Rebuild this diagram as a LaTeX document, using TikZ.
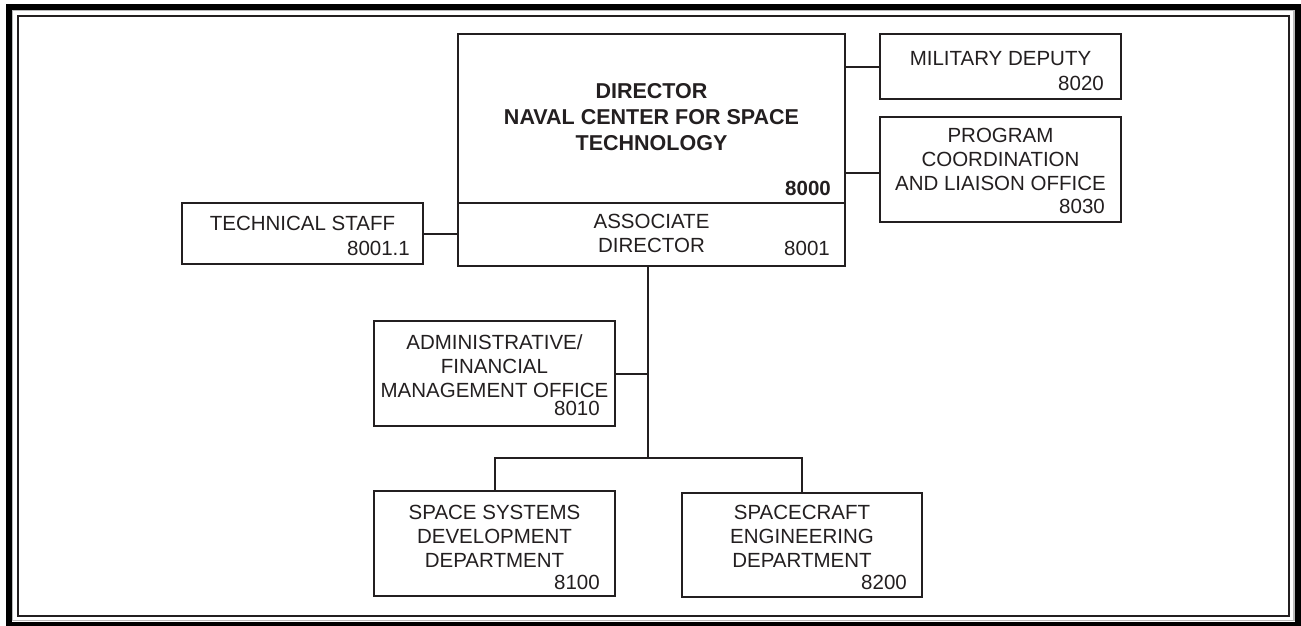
\documentclass[tikz,border=0pt]{standalone}
\usepackage{fontspec}
\setmainfont{Liberation Sans}
\definecolor{ink}{HTML}{231F20}
\begin{document}
\begin{tikzpicture}[x=1pt,y=-1pt,
  box/.style={draw=ink, line width=2pt, fill=white, inner sep=0pt, rectangle},
  conn/.style={draw=ink, line width=2pt},
  txt/.style={text=ink, inner sep=0pt, align=center, anchor=base, font=\fontsize{20.5}{24}\selectfont},
  boldtxt/.style={txt, font=\fontsize{21.5}{26}\selectfont\bfseries},
  num/.style={text=ink, inner sep=0pt, anchor=base east, font=\fontsize{20.5}{24}\selectfont},
  boldnum/.style={num, font=\fontsize{20.5}{24}\selectfont\bfseries}
]
\useasboundingbox (0,0) rectangle (1301,625);
% frames
\draw[black, line width=6pt] (9,7) rectangle (1298,625);
\draw[gray!55, line width=1.2pt] (12.7,10.8) rectangle (1294,620.8);
\draw[ink, line width=1.5pt] (18,16) rectangle (1289,616);

% boxes
\node[box, minimum width=387pt, minimum height=169pt] (dir) at (651.5,118.5) {};
\node[box, minimum width=387pt, minimum height=63pt] (assoc) at (651.5,234.5) {};
\node[box, minimum width=241pt, minimum height=61pt] (tech) at (302.5,233.5) {};
\node[box, minimum width=241pt, minimum height=65pt] (mil) at (1000.5,66.5) {};
\node[box, minimum width=241pt, minimum height=105pt] (prog) at (1000.5,169.5) {};
\node[box, minimum width=241pt, minimum height=105pt] (admin) at (494.5,373.5) {};
\node[box, minimum width=241pt, minimum height=105pt] (ssd) at (494.5,543.5) {};
\node[box, minimum width=240pt, minimum height=104pt] (sed) at (802,545) {};

% connectors
\coordinate (bus) at (648,458);
\draw[conn] (dir.east |- mil.west) -- (mil.west);
\draw[conn] ([yshift=-3.5pt]prog.west -| dir.east) -- ([yshift=-3.5pt]prog.west);
\draw[conn] (tech.east) -- (tech.east -| assoc.west);
\draw[conn] (assoc.south -| bus) -- (bus);
\draw[conn] (admin.east) -- (admin.east -| bus);
\draw[conn] (ssd.north) |- (bus) -| (sed.north);

% texts (anchor=base is the baseline of the last line)
\node[boldtxt] (tdir) at (651.5,150) {DIRECTOR\\NAVAL CENTER FOR SPACE\\TECHNOLOGY};
\node[boldnum] (ndir) at (831,195) {8000};
\node[txt] (tassoc) at (651.5,252) {ASSOCIATE\\DIRECTOR};
\node[num] (nassoc) at (830,255) {8001};
\node[txt] (ttech) at (302.5,230) {TECHNICAL STAFF};
\node[num] (ntech) at (410,255) {8001.1};
\node[txt] (tmil) at (1000.5,65) {MILITARY DEPUTY};
\node[num] (nmil) at (1104,90) {8020};
\node[txt] (tprog) at (1000.5,190) {PROGRAM\\COORDINATION\\AND LIAISON OFFICE};
\node[num] (nprog) at (1105,213) {8030};
\node[txt] (tadmin) at (494.5,397) {ADMINISTRATIVE/\\FINANCIAL\\MANAGEMENT OFFICE};
\node[num] (nadmin) at (600,415) {8010};
\node[txt] (tssd) at (494.5,567) {SPACE SYSTEMS\\DEVELOPMENT\\DEPARTMENT};
\node[num] (nssd) at (600,589) {8100};
\node[txt] (tsed) at (802,567) {SPACECRAFT\\ENGINEERING\\DEPARTMENT};
\node[num] (nsed) at (907,589) {8200};
\end{tikzpicture}
\end{document}
